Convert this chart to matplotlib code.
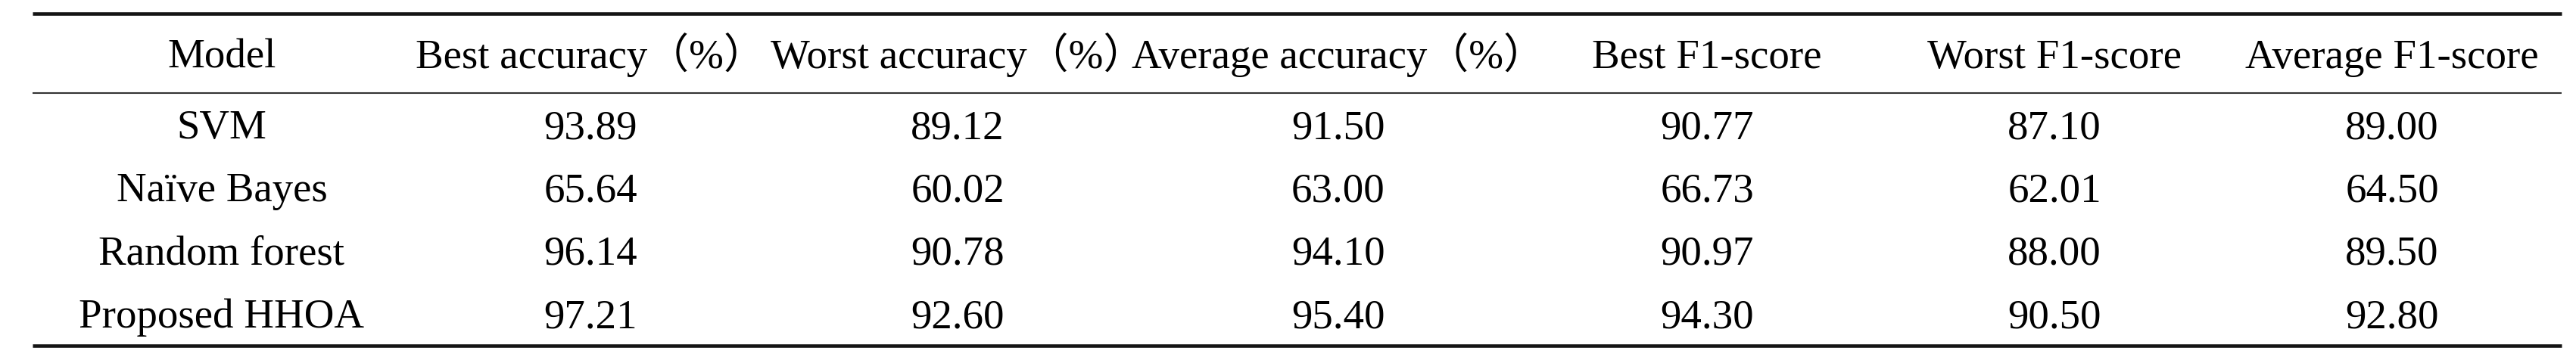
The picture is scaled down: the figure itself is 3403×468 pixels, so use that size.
import matplotlib
matplotlib.use("Agg")
import matplotlib.pyplot as plt

headers = ["Model", "Best accuracy（%）", "Worst accuracy（%）", "Average accuracy（%）",
           "Best F1-score", "Worst F1-score", "Average F1-score"]
models = ["SVM", "Naïve Bayes", "Random forest", "Proposed HHOA"]
best_acc = ["93.89", "65.64", "96.14", "97.21"]
worst_acc = ["89.12", "60.02", "90.78", "92.60"]
avg_acc = ["91.50", "63.00", "94.10", "95.40"]
best_f1 = ["90.77", "66.73", "90.97", "94.30"]
worst_f1 = ["87.10", "62.01", "88.00", "90.50"]
avg_f1 = ["89.00", "64.50", "89.50", "92.80"]

columns = [models, best_acc, worst_acc, avg_acc, best_f1, worst_f1, avg_f1]

W, H = 3403, 468
fig = plt.figure(figsize=(W / 100, H / 100), dpi=100)
ax = fig.add_axes([0, 0, 1, 1])
ax.set_xlim(0, W)
ax.set_ylim(H, 0)
ax.axis("off")

fam = ["Liberation Serif", "Noto Sans CJK SC", "DejaVu Sans"]
fs = 39.5
col_x = [293, 780, 1265, 1768, 2255, 2714, 3160]
header_base = 90
row_base = [183, 266.3, 349.6, 433]

for x, h in zip(col_x, headers):
    ax.text(x, header_base, h, ha="center", va="baseline", fontsize=fs, family=fam, color="black")

for x, col in zip(col_x, columns):
    for y, v in zip(row_base, col):
        ax.text(x, y, v, ha="center", va="baseline", fontsize=fs, family=fam, color="black")

x0, x1 = 43, 3384
ax.plot([x0, x1], [18, 18], color="#141414", lw=3.3, solid_capstyle="butt")
ax.plot([x0, x1], [123, 123], color="#333333", lw=1.5, solid_capstyle="butt")
ax.plot([x0, x1], [457, 457], color="#141414", lw=3.3, solid_capstyle="butt")

fig.savefig("out.png", dpi=100, facecolor="white")
